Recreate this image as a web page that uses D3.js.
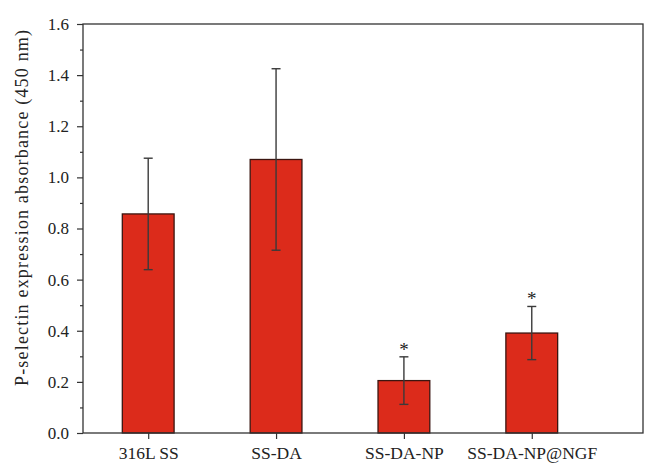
<!DOCTYPE html>
<html lang="en">
<head>
<meta charset="UTF-8">
<title>P-selectin</title>
<script src="https://d3js.org/d3.v7.min.js"></script>
<style>
  body { margin: 0; background: #fff; }
  text { font-family: "Liberation Serif", "DejaVu Serif", serif; fill: #222; }
</style>
</head>
<body>
<svg width="650" height="468" id="mainsvg"></svg>
<script>
const categories = ['316L SS', 'SS-DA', 'SS-DA-NP', 'SS-DA-NP@NGF'];
const means = [0.857, 1.070, 0.205, 0.391];
const errors = [0.218, 0.355, 0.093, 0.104];
const marks = ['', '', '*', '*'];
const yTicks = [0, 0.2, 0.4, 0.6, 0.8, 1.0, 1.2, 1.4, 1.6];

const svg = d3.select('#mainsvg');
const margin = {top: 24, right: 7, bottom: 35, left: 83};
const width = +svg.attr('width');
const height = +svg.attr('height');
const innerWidth = width - margin.left - margin.right;
const innerHeight = height - margin.top - margin.bottom;

const g = svg.append('g').attr('transform', `translate(${margin.left},${margin.top})`);

// x: category index 1..4 on a linear axis, like the original plot
const xScale = d3.scaleLinear().domain([0.49, 4.87]).range([0, innerWidth]);
const yScale = d3.scaleLinear().domain([0, 1.6]).range([innerHeight, 0]);
const barW = xScale(1.405) - xScale(1);

// bars
g.selectAll('.bar').data(means).join('rect')
  .attr('class', 'bar')
  .attr('x', (d, i) => xScale(i + 1) - barW / 2)
  .attr('y', d => yScale(d))
  .attr('width', barW)
  .attr('height', d => innerHeight - yScale(d))
  .attr('fill', '#dc2b1b')
  .attr('stroke', '#3b1510')
  .attr('stroke-width', 1.3);

// error bars
const err = g.selectAll('.err').data(means).join('g').attr('class', 'err')
  .attr('stroke', '#3a3a3a').attr('stroke-width', 1.4);
err.append('line')
  .attr('x1', (d, i) => xScale(i + 1)).attr('x2', (d, i) => xScale(i + 1))
  .attr('y1', (d, i) => yScale(d - errors[i])).attr('y2', (d, i) => yScale(d + errors[i]));
err.append('line')
  .attr('x1', (d, i) => xScale(i + 1) - 4.5).attr('x2', (d, i) => xScale(i + 1) + 4.5)
  .attr('y1', (d, i) => yScale(d + errors[i])).attr('y2', (d, i) => yScale(d + errors[i]));
err.append('line')
  .attr('x1', (d, i) => xScale(i + 1) - 4.5).attr('x2', (d, i) => xScale(i + 1) + 4.5)
  .attr('y1', (d, i) => yScale(d - errors[i])).attr('y2', (d, i) => yScale(d - errors[i]));

// significance marks (only where there is one)
const markData = marks.map((m, i) => ({m, i})).filter(d => d.m);
g.selectAll('.mark').data(markData).join('text')
  .attr('class', 'mark')
  .attr('x', d => xScale(d.i + 1))
  .attr('y', d => yScale(means[d.i] + errors[d.i]) - 1)
  .attr('text-anchor', 'middle')
  .attr('font-size', 19)
  .attr('fill', '#444')
  .text(d => d.m);

// frame
g.append('rect').attr('width', innerWidth).attr('height', innerHeight)
  .attr('fill', 'none').attr('stroke', '#333').attr('stroke-width', 1.3);

// y axis with minor ticks
const yAxis = d3.axisLeft(yScale).tickValues(yTicks).tickFormat(d3.format('.1f')).tickSize(6).tickPadding(8);
const yMinor = d3.axisLeft(yScale).tickValues(yTicks.slice(0, -1).map(d => d + 0.1)).tickSize(3);
const ya = g.append('g').call(yAxis);
const ym = g.append('g').call(yMinor);
ym.select('.domain').remove();
ym.selectAll('text').remove();
ya.select('.domain').remove();
ya.selectAll('.tick text').attr('font-size', 17);

// x axis
const xAxis = d3.axisBottom(xScale).tickValues([1, 2, 3, 4]).tickFormat(i => categories[i - 1]).tickSize(6);
const xa = g.append('g').attr('transform', `translate(0,${innerHeight})`).call(xAxis);
xa.select('.domain').remove();
xa.selectAll('.tick text').attr('y', 26).attr('dy', 0).attr('font-size', 17.5);

svg.selectAll('.tick line').attr('stroke', '#333').attr('stroke-width', 1.2);
svg.selectAll('.tick text').attr('fill', '#222')
  .style('font-family', '"Liberation Serif", "DejaVu Serif", serif');

// y title
svg.append('text')
  .attr('transform', `translate(28,208) rotate(-90)`)
  .attr('text-anchor', 'middle')
  .attr('font-size', 18)
  .attr('textLength', 356)
  .attr('lengthAdjust', 'spacing')
  .text('P-selectin expression absorbance (450 nm)');
</script>
</body>
</html>
